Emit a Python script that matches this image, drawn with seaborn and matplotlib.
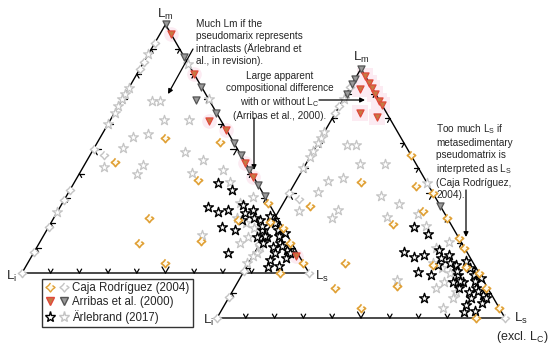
import numpy as np
import pandas as pd
import matplotlib
matplotlib.use('Agg')
import matplotlib.pyplot as plt
import seaborn as sns
from matplotlib.path import Path
from matplotlib.lines import Line2D
from matplotlib.legend_handler import HandlerTuple

sns.set_style('white')
plt.rcParams['font.family'] = ['Liberation Sans', 'DejaVu Sans']
plt.rcParams['mathtext.fontset'] = 'custom'
plt.rcParams['mathtext.rm'] = 'Liberation Sans'
plt.rcParams['mathtext.it'] = 'Liberation Sans:italic'

# ---- data: ternary compositions in % (Lm, Ls); Li = 100 - Lm - Ls ----
# shared by both diagrams
caja_lm = [54.5, 44.8, 52.8, 37.5, 22.2, 12.2, 4.2, 12.8, 21.2, 20.6, 18.1, 12.1, 0.0, 4.0, 28.2]
caja_ls = [22.6, 10.0, 42.6, 42.5, 33.2, 34.8, 47.8, 56.0, 64.5, 76.1, 81.9, 87.4, 89.9, 96.0, 71.6]

caja_grey_lm = [92.5, 85.0, 82.0, 50.0, 33.5, 29.5, 18.7, 8.6, 0.0, 47.6, 0.0]
caja_grey_ls = [0.0, 0.0, 0.0, 0.0, 0.0, 0.0, 0.0, 0.0, 0.0, 4.8, 100.0]

arl_lm = [36.3, 33.5, 26.6, 24.6, 25.4, 27.4, 25.4, 18.5, 17.3, 24.2, 21.4, 21.4, 17.3, 14.5,
          10.5, 8.1, 5.2, 2.4, 12.1, 9.3, 8.1, 8.1, 14.5, 12.1, 17.3, 16.1, 22.0, 19.0, 15.0,
          11.0, 6.0, 3.0, 15.0, 20.0, 23.0]
arl_ls = [50.2, 56.5, 51.5, 56.0, 59.1, 63.3, 67.8, 60.4, 65.5, 65.6, 66.0, 72.2, 74.9, 78.1,
          82.3, 84.2, 83.8, 84.5, 83.9, 87.7, 89.4, 67.8, 74.6, 78.0, 80.5, 83.5, 70.0, 74.0, 77.0,
          85.0, 89.0, 88.0, 82.0, 78.0, 75.0]

arl_grey_lm = [69.4, 69.4, 61.7, 61.7, 54.8, 56.0, 48.8, 45.6, 43.5, 39.9, 42.7, 41.5, 36.7, 40.3,
               30.6, 15.3, 14.5, 10.5, 4.0, 50.4, 28.0, 22.0, 20.0, 12.0, 25.0, 18.0, 8.0,
               88.0, 74.5, 72.0, 70.0, 67.0, 64.5, 60.0, 24.7]
arl_grey_ls = [10.6, 13.4, 18.7, 27.4, 11.3, 15.9, 32.4, 40.3, 20.4, 20.1, 7.2, 49.2, 54.1, 39.0,
               65.2, 55.0, 71.4, 77.7, 76.4, 10.0, 62.0, 64.0, 68.0, 70.0, 68.0, 72.0, 78.0,
               0.0, 0.0, 0.0, 0.0, 0.0, 0.0, 0.0, 0.0]

# diagram 1 only (Lm-Li-Ls)
arr1_lm = [96.0, 80.0, 61.3, 57.7, 44.4, 38.7, 7.0]
arr1_ls = [4.0, 20.0, 34.5, 42.3, 55.6, 61.3, 92.0]
arr1_grey_lm = [100.0, 87.0, 75.0, 69.8, 64.5, 52.4, 47.6, 41.5, 35.5, 31.0]
arr1_grey_ls = [0.0, 13.0, 25.0, 25.7, 35.5, 47.6, 52.4, 58.5, 64.5, 69.0]
arl1_grey_lm = [84.0, 70.0]
arl1_grey_ls = [16.0, 30.0]

# diagram 2 only (Lm-Li-Ls excl. Lc)
arr2_lm = [97.2, 94.4, 92.4, 90.0, 87.2, 85.2, 92.0, 82.0, 80.4]
arr2_ls = [2.8, 5.6, 7.6, 10.0, 12.8, 14.8, 3.7, 8.7, 15.4]
arr2_grey_lm = [100.0, 96.0, 94.0, 90.0, 45.0]
arr2_grey_ls = [0.0, 0.0, 0.0, 0.0, 55.0]
caja2_lm = [65.2, 50.0, 40.0, 32.0, 42.8]
caja2_ls = [34.8, 50.0, 60.0, 68.0, 50.0]
arl2_grey_lm = [54.0]
arl2_grey_ls = [46.0]

# ---- layout ----
T1 = (22, 273, 287)   # Li vertex x, y and side length in pixels
T2 = (217, 318, 288)
H = np.sqrt(3) / 2

ORANGE = '#e0a035'
LIGHT = '#c4c4c4'
RED_FACE = '#c47a42'
RED_EDGE = '#e0483a'
TRI_GREY = '#9a9a9a'
HALO = '#fcebf2'

ang = np.deg2rad(np.arange(8) * 45 + 90)
rad = np.where(np.arange(8) % 2 == 0, 1.0, 0.62)
caja_marker = Path(np.column_stack([np.cos(ang) * rad, np.sin(ang) * rad]))


def to_xy(lm, ls, frame):
    x0, y0, side = frame
    lm = np.asarray(lm, float) / 100
    ls = np.asarray(ls, float) / 100
    return x0 + side * (ls + lm / 2), y0 - side * H * lm


def pts(ax, lm, ls, frame, marker, s, face, edge, lw=1.0, z=3):
    x, y = to_xy(lm, ls, frame)
    df = pd.DataFrame({'x': x, 'y': y})
    sns.scatterplot(data=df, x='x', y='y', marker=marker, s=s, color=face,
                    edgecolor=edge, linewidth=lw, zorder=z, ax=ax, legend=False)


def frame_lines(ax, frame):
    x0, y0, side = frame
    li = np.array([x0, y0])
    ls_ = np.array([x0 + side, y0])
    lm = np.array([x0 + side / 2, y0 - side * H])
    ax.plot([li[0], ls_[0], lm[0], li[0]], [li[1], ls_[1], lm[1], li[1]],
            color='black', lw=1.0, zorder=2, solid_joinstyle='miter')
    edges = [(li, ls_, [(0.5, -H), (-0.5, -H)]),
             (li, lm, [(1, 0), (0.5, H)]),
             (ls_, lm, [(-1, 0), (-0.5, H)])]
    for a, b, arms in edges:
        for i in range(1, 10):
            p = a + (b - a) * i / 10
            L = 7 if i == 5 else 4.5
            for dx, dy in arms:
                ax.plot([p[0], p[0] + dx * L], [p[1], p[1] + dy * L],
                        color='black', lw=0.9, zorder=2)


fig = plt.figure(figsize=(5.5, 3.48), dpi=100)
ax = fig.add_axes([0, 0, 1, 1])

for fr in (T1, T2):
    frame_lines(ax, fr)

STAR, DIA, TRI = 55, 36, 26

for fr in (T1, T2):
    pts(ax, caja_grey_lm, caja_grey_ls, fr, caja_marker, DIA, 'white', LIGHT, z=3)
    pts(ax, arl_grey_lm, arl_grey_ls, fr, '*', STAR, 'white', LIGHT, lw=0.9, z=3)
    pts(ax, arl_lm, arl_ls, fr, '*', STAR, 'white', 'black', lw=1.0, z=4)
    pts(ax, caja_lm, caja_ls, fr, caja_marker, DIA, '#fffbee', ORANGE, lw=1.2, z=5)

pts(ax, arl1_grey_lm, arl1_grey_ls, T1, '*', STAR, 'white', LIGHT, lw=0.9, z=3)
pts(ax, arr1_grey_lm, arr1_grey_ls, T1, 'v', TRI, TRI_GREY, '#555555', lw=0.9, z=4)
pts(ax, arr1_lm, arr1_ls, T1, 'o', 110, HALO, HALO, lw=0, z=1)
pts(ax, arr1_lm, arr1_ls, T1, 'v', TRI, RED_FACE, RED_EDGE, lw=0.9, z=6)

pts(ax, arl2_grey_lm, arl2_grey_ls, T2, '*', STAR, 'white', LIGHT, lw=0.9, z=3)
pts(ax, caja2_lm, caja2_ls, T2, caja_marker, DIA, '#fffbee', ORANGE, lw=1.2, z=5)
pts(ax, arr2_grey_lm, arr2_grey_ls, T2, 'v', TRI, TRI_GREY, '#555555', lw=0.9, z=4)
pts(ax, arr2_lm, arr2_ls, T2, 's', 130, HALO, HALO, lw=0, z=1)
pts(ax, arr2_lm, arr2_ls, T2, 'v', TRI, RED_FACE, RED_EDGE, lw=0.9, z=6)

ax.set_xlim(0, 550)
ax.set_ylim(348, 0)
ax.axis('off')

# vertex labels
lab = dict(fontsize=9.5, ha='center', va='center')
ax.text(165, 14, r'L$_\mathregular{m}$', **lab)
ax.text(11, 276, r'L$_\mathregular{i}$', **lab)
ax.text(322, 276, r'L$_\mathregular{s}$', **lab)
ax.text(361, 57, r'L$_\mathregular{m}$', **lab)
ax.text(208, 320, r'L$_\mathregular{i}$', **lab)
ax.text(521, 318, r'L$_\mathregular{s}$', **lab)
ax.text(522, 337, r'(excl. L$_\mathregular{C}$)', fontsize=9, ha='center', va='center')

# annotations
note = dict(fontsize=7.2, linespacing=1.25, va='top')
ax.text(196, 19, 'Much Lm if the\npseudomarix represents\nintraclasts (Ärlebrand et\nal., in revision).',
        ha='left', **note)
ax.text(280, 71, 'Large apparent\ncompositional difference\nwith or without L$_\\mathregular{C}$\n(Arribas et al., 2000).',
        ha='center', **note)
ax.text(436, 122, 'Too much L$_\\mathregular{S}$ if\nmetasedimentary\npseudomatrix is\ninterpreted as L$_\\mathregular{S}$\n(Caja Rodríguez,\n2004).',
        ha='left', **note)
arr = dict(arrowstyle='-|>', color='black', lw=0.9, mutation_scale=7, shrinkA=0, shrinkB=0)
ax.annotate('', xy=(168, 94), xytext=(193, 49), arrowprops=arr)
ax.annotate('', xy=(254, 170), xytext=(254, 118), arrowprops=arr)
ax.annotate('', xy=(365, 100), xytext=(319, 100), arrowprops=arr)
ax.annotate('', xy=(466, 237), xytext=(466, 190), arrowprops=arr)

# legend
def mk(marker, face, edge, ms):
    return Line2D([], [], ls='none', marker=marker, ms=ms, mfc=face, mec=edge, mew=1.0)

handles = [(mk(caja_marker, '#fffbee', ORANGE, 6.5), mk(caja_marker, 'white', LIGHT, 6.5)),
           (mk('v', RED_FACE, RED_EDGE, 5.5), mk('v', TRI_GREY, '#555555', 5.5)),
           (mk('*', 'white', 'black', 8), mk('*', 'white', LIGHT, 8))]
labels = ['Caja Rodríguez (2004)', 'Arribas et al. (2000)', 'Ärlebrand (2017)']
leg = ax.legend(handles, labels, handler_map={tuple: HandlerTuple(ndivide=None, pad=0.5)},
                loc='upper left', bbox_to_anchor=(42 / 550, 1 - 279 / 348), borderaxespad=0,
                fontsize=8.3, handlelength=2.0, handletextpad=0.3, borderpad=0.3,
                labelspacing=0.15, fancybox=False, framealpha=1)
leg.get_frame().set_edgecolor('#333333')
leg.get_frame().set_linewidth(1.0)

fig.savefig('out.png', dpi=100)
